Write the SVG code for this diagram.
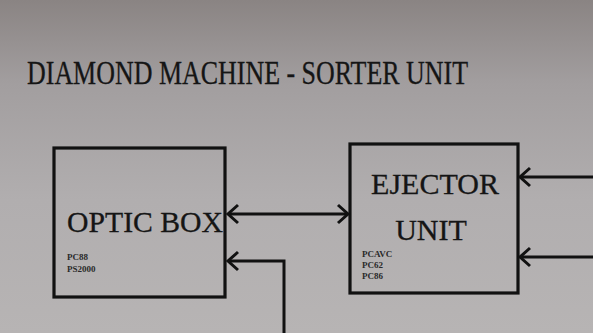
<svg xmlns="http://www.w3.org/2000/svg" width="593" height="333" viewBox="0 0 593 333">
  <defs>
    <linearGradient id="bg" x1="0" y1="0" x2="0" y2="1">
      <stop offset="0" stop-color="#8a8483"/>
      <stop offset="0.25" stop-color="#a29e9f"/>
      <stop offset="0.6" stop-color="#b1aeaf"/>
      <stop offset="1" stop-color="#b7b4b4"/>
    </linearGradient>
    <marker id="v" markerUnits="userSpaceOnUse" markerWidth="30" markerHeight="30" refX="0" refY="0" orient="auto-start-reverse" overflow="visible">
      <path d="M-10,-9 L0,0 L-10,9" fill="none" stroke="#111" stroke-width="3"/>
    </marker>
    <style>
      .box{fill:none;stroke:#111;stroke-width:3.2}
      .ln{fill:none;stroke:#111;stroke-width:3}
      .big{font-family:"Liberation Serif","Times New Roman",serif;fill:#151515;stroke:#151515;stroke-width:0.3}
      .sm{font-family:"Liberation Serif","Times New Roman",serif;font-size:9px;font-weight:bold;fill:#2a2a2a}
    </style>
  </defs>
  <rect x="0" y="0" width="593" height="333" fill="url(#bg)"/>
  <text class="big" x="27" y="84" font-size="33" textLength="441" lengthAdjust="spacingAndGlyphs">DIAMOND MACHINE - SORTER UNIT</text>
  <g id="optic-box">
    <rect class="box" x="54" y="148" width="171" height="149"/>
    <text class="big" x="67" y="232" font-size="30" textLength="156" lengthAdjust="spacingAndGlyphs">OPTIC BOX</text>
    <text class="sm" x="67" y="260">PC88</text>
    <text class="sm" x="67" y="272">PS2000</text>
  </g>
  <g id="ejector-unit">
    <rect class="box" x="350" y="144" width="168" height="149"/>
    <text class="big" x="435" y="194" font-size="30" text-anchor="middle">EJECTOR</text>
    <text class="big" x="431" y="240" font-size="30" text-anchor="middle">UNIT</text>
    <text class="sm" x="362" y="257">PCAVC</text>
    <text class="sm" x="362" y="268">PC62</text>
    <text class="sm" x="362" y="279">PC86</text>
  </g>
  <g id="connectors">
    <line class="ln" x1="228" y1="214" x2="348" y2="214" marker-start="url(#v)" marker-end="url(#v)"/>
    <polyline class="ln" points="284,333 284,261 228,261" marker-end="url(#v)"/>
    <line class="ln" x1="593" y1="177" x2="520" y2="177" marker-end="url(#v)"/>
    <line class="ln" x1="593" y1="257" x2="520" y2="257" marker-end="url(#v)"/>
  </g>
</svg>
